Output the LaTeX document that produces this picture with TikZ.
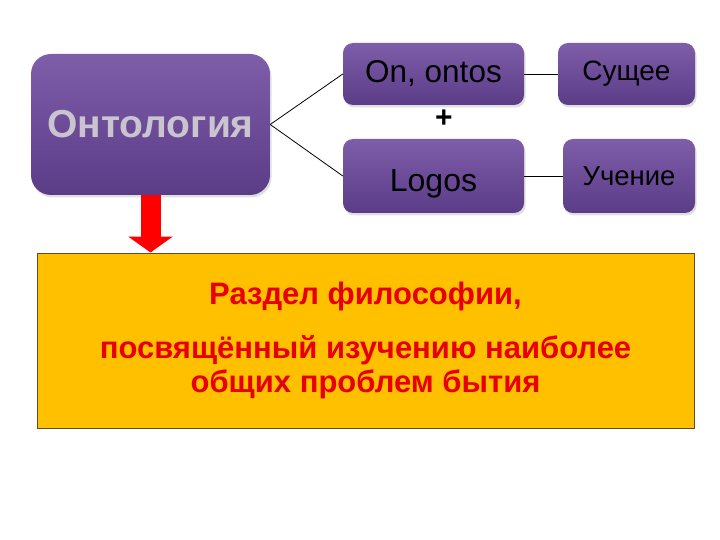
\documentclass[tikz,border=0pt]{standalone}
\usepackage{fontspec}
\setmainfont{Liberation Sans}
\usepackage{tikz}
\usetikzlibrary{arrows.meta,shadows}

\definecolor{boxtop}{HTML}{7E5DA9}
\definecolor{boxbot}{HTML}{5B3C87}
\definecolor{ontogray}{HTML}{C9C4CE}
\definecolor{defyellow}{HTML}{FFC000}
\definecolor{defborder}{HTML}{5E4E28}
\definecolor{defred}{HTML}{E80000}

\tikzset{
  pbox/.style={rounded corners=10pt, top color=boxtop, bottom color=boxbot, inner sep=0pt,
    drop shadow={opacity=0.25, shadow xshift=1.5pt, shadow yshift=-2.5pt}},
  link/.style={line width=0.8pt, black},
}

\begin{document}
\begin{tikzpicture}[x=1pt, y=-1pt]
			%%%%% START %%%%%
			\useasboundingbox (0,0) rectangle (720,540);
			
			\node[pbox, rounded corners=20pt, minimum width=239pt, minimum height=141pt, text=ontogray,
			      font=\bfseries\fontsize{39}{44}\selectfont] (onto) at (150.5,124.5) {Онтология};
			
			\node[pbox, minimum width=181pt, minimum height=62pt, font=\fontsize{31.5}{36}\selectfont] (on) at (433.5,74) {On, ontos};
			\node[pbox, minimum width=137pt, minimum height=62pt, font=\fontsize{28}{32}\selectfont] (being) at (626.5,74) {Сущее};
			\node[pbox, minimum width=181pt, minimum height=74pt, text height=37pt, font=\fontsize{32}{36}\selectfont] (logos) at (433.5,176) {Logos};
			\node[pbox, minimum width=132pt, minimum height=74pt, font=\fontsize{27.5}{32}\selectfont] (teach) at (629,176) {Учение};
			
			\node[font=\bfseries\fontsize{30}{34}\selectfont] (plus) at (444,119) {+};
			
			\draw[link] (onto.east) -- (on.west);
			\draw[link] (onto.east) -- (logos.west);
			\draw[link] (on.east) -- (being.west);
			\draw[link] (logos.east) -- (teach.west);
			
			\node[draw=defborder, line width=1pt, fill=defyellow, minimum width=657pt, minimum height=175pt,
			      text=defred, align=center, font=\bfseries\fontsize{31}{34}\selectfont] (def) at (365.5,340.5)
			      {Раздел философии,\\[20pt] посвящённый изучению наиболее\\ общих проблем бытия};
			
			\draw[red, line width=20pt, -{Triangle[width=44pt, length=16pt]}] (onto.south) -- (onto.south |- def.north);
			
			%%%%% END %%%%%
\end{tikzpicture}
\end{document}
